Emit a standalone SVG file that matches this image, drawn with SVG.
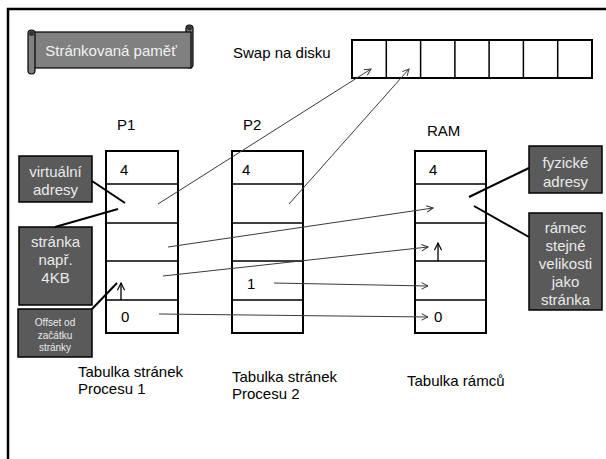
<svg xmlns="http://www.w3.org/2000/svg" width="606" height="459" viewBox="0 0 606 459">
<defs>
<marker id="ah" viewBox="0 0 10 10" refX="9" refY="5" markerWidth="8" markerHeight="8" markerUnits="userSpaceOnUse" orient="auto">
<path d="M1,1 L9,5 L1,9" fill="none" stroke="#333" stroke-width="1.2"/>
</marker>
<marker id="ahk" viewBox="0 0 10 10" refX="9" refY="5" markerWidth="9" markerHeight="9" markerUnits="userSpaceOnUse" orient="auto">
<path d="M1,1 L9,5 L1,9" fill="none" stroke="#000" stroke-width="1.3"/>
</marker>
</defs>
<style>
text{font-family:"Liberation Sans",Arial,sans-serif;font-size:15px;fill:#000}
.lbl{fill:#eaeaea;text-anchor:middle}
.small{font-size:10px}
.box{fill:#5a5a5a;stroke:#000;stroke-width:1.5}
.tbl{fill:#fff;stroke:#000;stroke-width:2}
.div{stroke:#000;stroke-width:1.5}
.con{stroke:#3a3a3a;stroke-width:1;fill:none}
.call{stroke:#000;stroke-width:2;fill:none}
.up{stroke:#000;stroke-width:1.3;fill:none}
</style>
<rect width="606" height="459" fill="#fff"/>
<rect x="8" y="9" width="700" height="600" fill="none" stroke="#000" stroke-width="2.5"/>

<g id="banner">
<rect x="186" y="25" width="7" height="43" rx="3.5" fill="#808080" stroke="#000" stroke-width="1.2"/>
<rect x="33" y="32" width="158" height="36" fill="#808080" stroke="#000" stroke-width="1.2"/>
<rect x="28" y="30" width="7" height="44" rx="3.5" fill="#808080" stroke="#000" stroke-width="1.2"/>
<circle cx="189.5" cy="28" r="2.5" fill="#333"/>
<circle cx="31.5" cy="33.5" r="2.5" fill="#333"/>
<text x="111" y="56" text-anchor="middle" fill="#f2f2f2" style="fill:#f2f2f2">Stránkovaná paměť</text>
</g>

<g id="swap">
<text x="233" y="58">Swap na disku</text>
<rect x="352" y="40" width="240" height="38" class="tbl"/>
<path class="div" d="M386.3,40V78M420.6,40V78M454.9,40V78M489.1,40V78M523.4,40V78M557.7,40V78"/>
</g>

<g id="p1">
<text x="117" y="130">P1</text>
<rect x="106" y="151" width="72" height="182" class="tbl"/>
<path class="div" d="M106,184H178M106,223H178M106,261H178M106,300H178"/>
<text x="120" y="175">4</text>
<text x="121" y="322">0</text>
<text x="78" y="377">Tabulka stránek</text>
<text x="78" y="394">Procesu 1</text>
</g>

<g id="p2">
<text x="243" y="130">P2</text>
<rect x="232" y="151" width="71" height="182" class="tbl"/>
<path class="div" d="M232,184H303M232,223H303M232,261H303M232,300H303"/>
<text x="242" y="175">4</text>
<text x="247" y="289">1</text>
<text x="232" y="382">Tabulka stránek</text>
<text x="232" y="399">Procesu 2</text>
</g>

<g id="ram">
<text x="427" y="136">RAM</text>
<rect x="415" y="151" width="71" height="182" class="tbl"/>
<path class="div" d="M415,184H486M415,223H486M415,261H486M415,300H486"/>
<text x="429" y="175">4</text>
<text x="434" y="322">0</text>
<text x="407" y="386">Tabulka rámců</text>
</g>

<g id="virt">
<rect x="19" y="156" width="73" height="46" class="box"/>
<text class="lbl" x="55.5" y="177">virtuální</text>
<text class="lbl" x="55.5" y="195">adresy</text>
</g>

<g id="page">
<rect x="19" y="227" width="73" height="78" class="box"/>
<text class="lbl" x="55.5" y="247">stránka</text>
<text class="lbl" x="55.5" y="265">např.</text>
<text class="lbl" x="55.5" y="283">4KB</text>
</g>

<g id="offset">
<rect x="18" y="309" width="74" height="48" class="box"/>
<text class="lbl small" x="55" y="326">Offset od</text>
<text class="lbl small" x="55" y="338.5">začátku</text>
<text class="lbl small" x="55" y="351">stránky</text>
</g>

<g id="phys">
<rect x="529" y="146" width="73" height="47" class="box"/>
<text class="lbl" x="565.5" y="168">fyzické</text>
<text class="lbl" x="565.5" y="187">adresy</text>
</g>

<g id="frame">
<rect x="529" y="213" width="73" height="97" class="box"/>
<text class="lbl" x="565.5" y="233">rámec</text>
<text class="lbl" x="565.5" y="251">stejné</text>
<text class="lbl" x="565.5" y="269">velikosti</text>
<text class="lbl" x="565.5" y="287">jako</text>
<text class="lbl" x="565.5" y="305">stránka</text>
</g>

<g id="connectors">
<line class="con" x1="158" y1="204" x2="371" y2="69" marker-end="url(#ah)"/>
<line class="con" x1="289" y1="204" x2="409" y2="69" marker-end="url(#ah)"/>
<line class="con" x1="168" y1="247" x2="433" y2="208" marker-end="url(#ah)"/>
<line class="con" x1="163" y1="276" x2="428" y2="247" marker-end="url(#ah)"/>
<line class="con" x1="274" y1="283" x2="428" y2="286" marker-end="url(#ah)"/>
<line class="con" x1="159" y1="314" x2="428" y2="317" marker-end="url(#ah)"/>
<line class="up" x1="121" y1="300" x2="121" y2="283" marker-end="url(#ahk)"/>
<line class="up" x1="438" y1="261" x2="438" y2="243" marker-end="url(#ahk)"/>
<line class="call" x1="92" y1="181" x2="125" y2="203"/>
<line class="call" x1="55" y1="227" x2="118" y2="209"/>
<line class="call" x1="92" y1="309" x2="117" y2="283"/>
<line class="call" x1="529" y1="168" x2="469" y2="197"/>
<line class="call" x1="529" y1="237" x2="474" y2="206"/>
</g>
</svg>
